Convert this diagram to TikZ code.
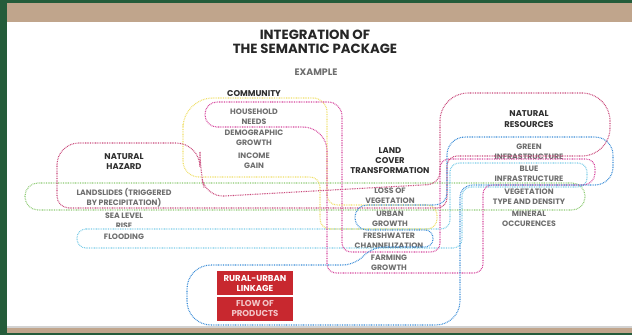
\documentclass[tikz,border=0pt]{standalone}
\usepackage{fontspec}
\setmainfont{Poppins}
\usepackage{tikz}
\usetikzlibrary{positioning}

\definecolor{framegreen}{HTML}{245C3A}
\definecolor{bandtan}{HTML}{C0A58C}
\definecolor{titlegray}{HTML}{262626}
\definecolor{headgray}{HTML}{2E2E2E}
\definecolor{itemgray}{HTML}{6E6E6E}
\definecolor{linkred}{HTML}{C8282F}
\definecolor{flowpink}{HTML}{F2C4C6}
\definecolor{hazardpink}{HTML}{C9487A}
\definecolor{homepink}{HTML}{D6449C}
\definecolor{commyellow}{HTML}{F0E068}
\definecolor{slidegreen}{HTML}{8DCB72}
\definecolor{floodcyan}{HTML}{7BCDE8}
\definecolor{linkblue}{HTML}{3A8DD8}

\begin{document}
\begin{tikzpicture}[x=1pt, y=-1pt,
    dotline/.style={line width=1.1pt, dash pattern=on 0.8pt off 0.9pt},
    head/.style={font=\bfseries\fontsize{8.4}{10.4}\selectfont, text=headgray, align=center, inner sep=0pt},
    item/.style={font=\bfseries\fontsize{7.8}{9.8}\selectfont, text=itemgray, align=center, inner sep=0pt},
    redbox/.style={fill=linkred, minimum width=76pt, minimum height=24pt, align=center, inner sep=0pt,
        font=\bfseries\fontsize{8.6}{10}\selectfont}]
    \useasboundingbox (0,0) rectangle (632,335);
    % frame
    \fill[framegreen] (0,0) rectangle (632,335);
    \fill[bandtan] (7,3) rectangle (632,22);
    \fill[white] (7,22) rectangle (632,325.5);
    \fill[gray!35] (7,325.5) rectangle (632,327.5);
    \fill[bandtan] (7,327.5) rectangle (632,333);

    % titles
    \node[font=\bfseries\fontsize{13.3}{14.5}\selectfont, text=titlegray, align=center] (title) at (315,42) {INTEGRATION OF\\THE SEMANTIC PACKAGE};
    \node[font=\bfseries\fontsize{9.4}{10}\selectfont, text=itemgray] (example) at (316,72) {EXAMPLE};

    % community
    \node[head] (community) at (254,94) {COMMUNITY};
    \node[item] (household) at (254,117) {HOUSEHOLD\\NEEDS};
    \node[item] (demographic) at (254,138) {DEMOGRAPHIC\\GROWTH};
    \node[item] (income) at (254,161) {INCOME\\GAIN};

    % natural hazard
    \node[head] (hazard) at (124,161.5) {NATURAL\\HAZARD};
    \node[item] (landslides) at (124,198) {LANDSLIDES (TRIGGERED\\BY PRECIPITATION)};
    \begin{scope}
        \clip (60,205) rectangle (190,226.5);
        \node[item] (sealevel) at (124,221) {SEA LEVEL\\RISE};
    \end{scope}
    \node[item] (flooding) at (124,237) {FLOODING};

    % land cover
    \node[head] (landcover) at (390,160.5) {LAND\\COVER\\TRANSFORMATION};
    \node[item] (lossveg) at (390,196) {LOSS OF\\VEGETATION};
    \node[item] (urban) at (390,219) {URBAN\\GROWTH};
    \node[item] (freshwater) at (389,241) {FRESHWATER\\CHANNELIZATION};
    \node[item] (farming) at (389,263) {FARMING\\GROWTH};

    % natural resources
    \node[head] (resources) at (529,119) {NATURAL\\RESOURCES};
    \node[item] (greeninf) at (529,152) {GREEN\\INFRASTRUCTURE};
    \node[item] (blueinf) at (529,174) {BLUE\\INFRASTRUCTURE};
    \node[item] (vegtype) at (529,197) {VEGETATION\\TYPE AND DENSITY};
    \begin{scope}
        \clip (470,205) rectangle (590,226);
        \node[item] (mineral) at (529,219) {MINERAL\\OCCURENCES};
    \end{scope}

    % rural-urban linkage
    \node[redbox, text=white] (linkage) at (255,283) {RURAL-URBAN\\LINKAGE};
    \node[redbox, text=flowpink, below=1.5pt of linkage] (flow) {FLOW OF\\PRODUCTS};

    % loops
    \draw[dotline, slidegreen, rounded corners=13pt] (25,183) rectangle (585,210);
    \draw[dotline, floodcyan, rounded corners=9pt]
        (77,229) -- (450,229) -- (450,163) -- (587,163) -- (587,187) -- (462,187) -- (462,248) -- (77,248) -- cycle;
    \draw[dotline, commyellow]
        (183,140) [rounded corners=30pt] -- (183,98) [rounded corners=14pt] -- (327,98) [rounded corners=10pt] -- (327,205)
        -- (437,205) -- (437,229) -- (320,229) -- (320,177) [rounded corners=16pt] -- (183,177) -- cycle;
    \draw[dotline, homepink]
        (260,102) [rounded corners=14pt] -- (342,102) [rounded corners=9pt] -- (342,252) -- (440,252) -- (440,159)
        -- (595,159) [rounded corners=12pt] -- (595,185) [rounded corners=9pt] -- (483,185) -- (483,273) -- (327,273)
        [rounded corners=24pt] -- (327,127) [rounded corners=12pt] -- (205,127) -- (205,102) -- cycle;
    \draw[dotline, hazardpink]
        (200,170) [rounded corners=24pt] -- (200,143) [rounded corners=22pt] -- (57,143) [rounded corners=12pt] -- (57,208)
        [rounded corners=10pt] -- (447,208) -- (447,156) [rounded corners=28pt] -- (610,156) -- (610,93)
        -- (440,93) [rounded corners=12pt] -- (440,184) [rounded corners=18pt] -- (206,197) -- cycle;
    \draw[dotline, linkblue]
        (260,265) [rounded corners=12pt] -- (355,265) -- (372,247) [rounded corners=8pt] -- (433,247) -- (433,230)
        [rounded corners=12pt] -- (355,230) -- (355,205) -- (447,205) [rounded corners=18pt] -- (447,137) -- (613,137)
        -- (613,185) [rounded corners=12pt] -- (460,185) [rounded corners=24pt] -- (460,325) -- (187,325) -- (187,265) -- cycle;
\end{tikzpicture}
\end{document}
